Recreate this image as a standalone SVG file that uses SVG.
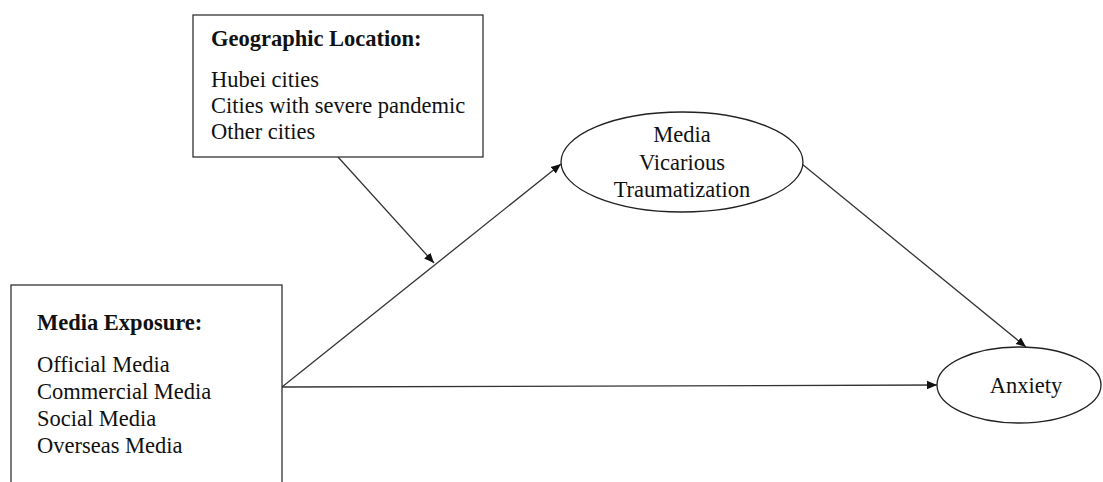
<svg xmlns="http://www.w3.org/2000/svg" width="1103" height="482" viewBox="0 0 1103 482">
<defs>
<style>
.box{fill:#fff;stroke:#333;stroke-width:1.3}
.ell{fill:#fff;stroke:#222;stroke-width:1.3}
.t{font-family:"Liberation Serif","Times New Roman",serif;font-size:22.5px;fill:#111}
.b{font-weight:bold}
.c{text-anchor:middle}
.con{stroke:#333;stroke-width:1.3;fill:none;marker-end:url(#arr)}
</style>
<marker id="arr" viewBox="0 0 10 10" refX="10" refY="5" markerWidth="10" markerHeight="10" markerUnits="userSpaceOnUse" orient="auto">
<path d="M0,0.8 L10,5 L0,9.2 z" fill="#111"/>
</marker>
</defs>
<rect width="1103" height="482" fill="#fff"/>
<g id="connectors">
<line class="con" x1="282" y1="387" x2="561" y2="164"/>
<line class="con" x1="282" y1="387" x2="937" y2="385"/>
<line class="con" x1="802" y1="164" x2="1026" y2="347"/>
<line class="con" x1="338" y1="157" x2="434" y2="263"/>
</g>
<g id="geographic">
<rect class="box" x="193" y="15" width="290" height="142"/>
<text class="t b" x="211" y="46">Geographic Location:</text>
<text class="t" x="211" y="87">Hubei cities</text>
<text class="t" x="211" y="113">Cities with severe pandemic</text>
<text class="t" x="211" y="139">Other cities</text>
</g>
<g id="media-exposure">
<rect class="box" x="11" y="285" width="271" height="220"/>
<text class="t b" x="37" y="330">Media Exposure:</text>
<text class="t" x="37" y="372">Official Media</text>
<text class="t" x="37" y="399">Commercial Media</text>
<text class="t" x="37" y="426">Social Media</text>
<text class="t" x="37" y="453">Overseas Media</text>
</g>
<g id="vicarious">
<ellipse class="ell" cx="682" cy="162" rx="121" ry="50"/>
<text class="t c" x="682" y="142">Media</text>
<text class="t c" x="682" y="170">Vicarious</text>
<text class="t c" x="682" y="197">Traumatization</text>
</g>
<g id="anxiety">
<ellipse class="ell" cx="1019" cy="385" rx="82" ry="38"/>
<text class="t c" x="1026" y="393">Anxiety</text>
</g>
</svg>
